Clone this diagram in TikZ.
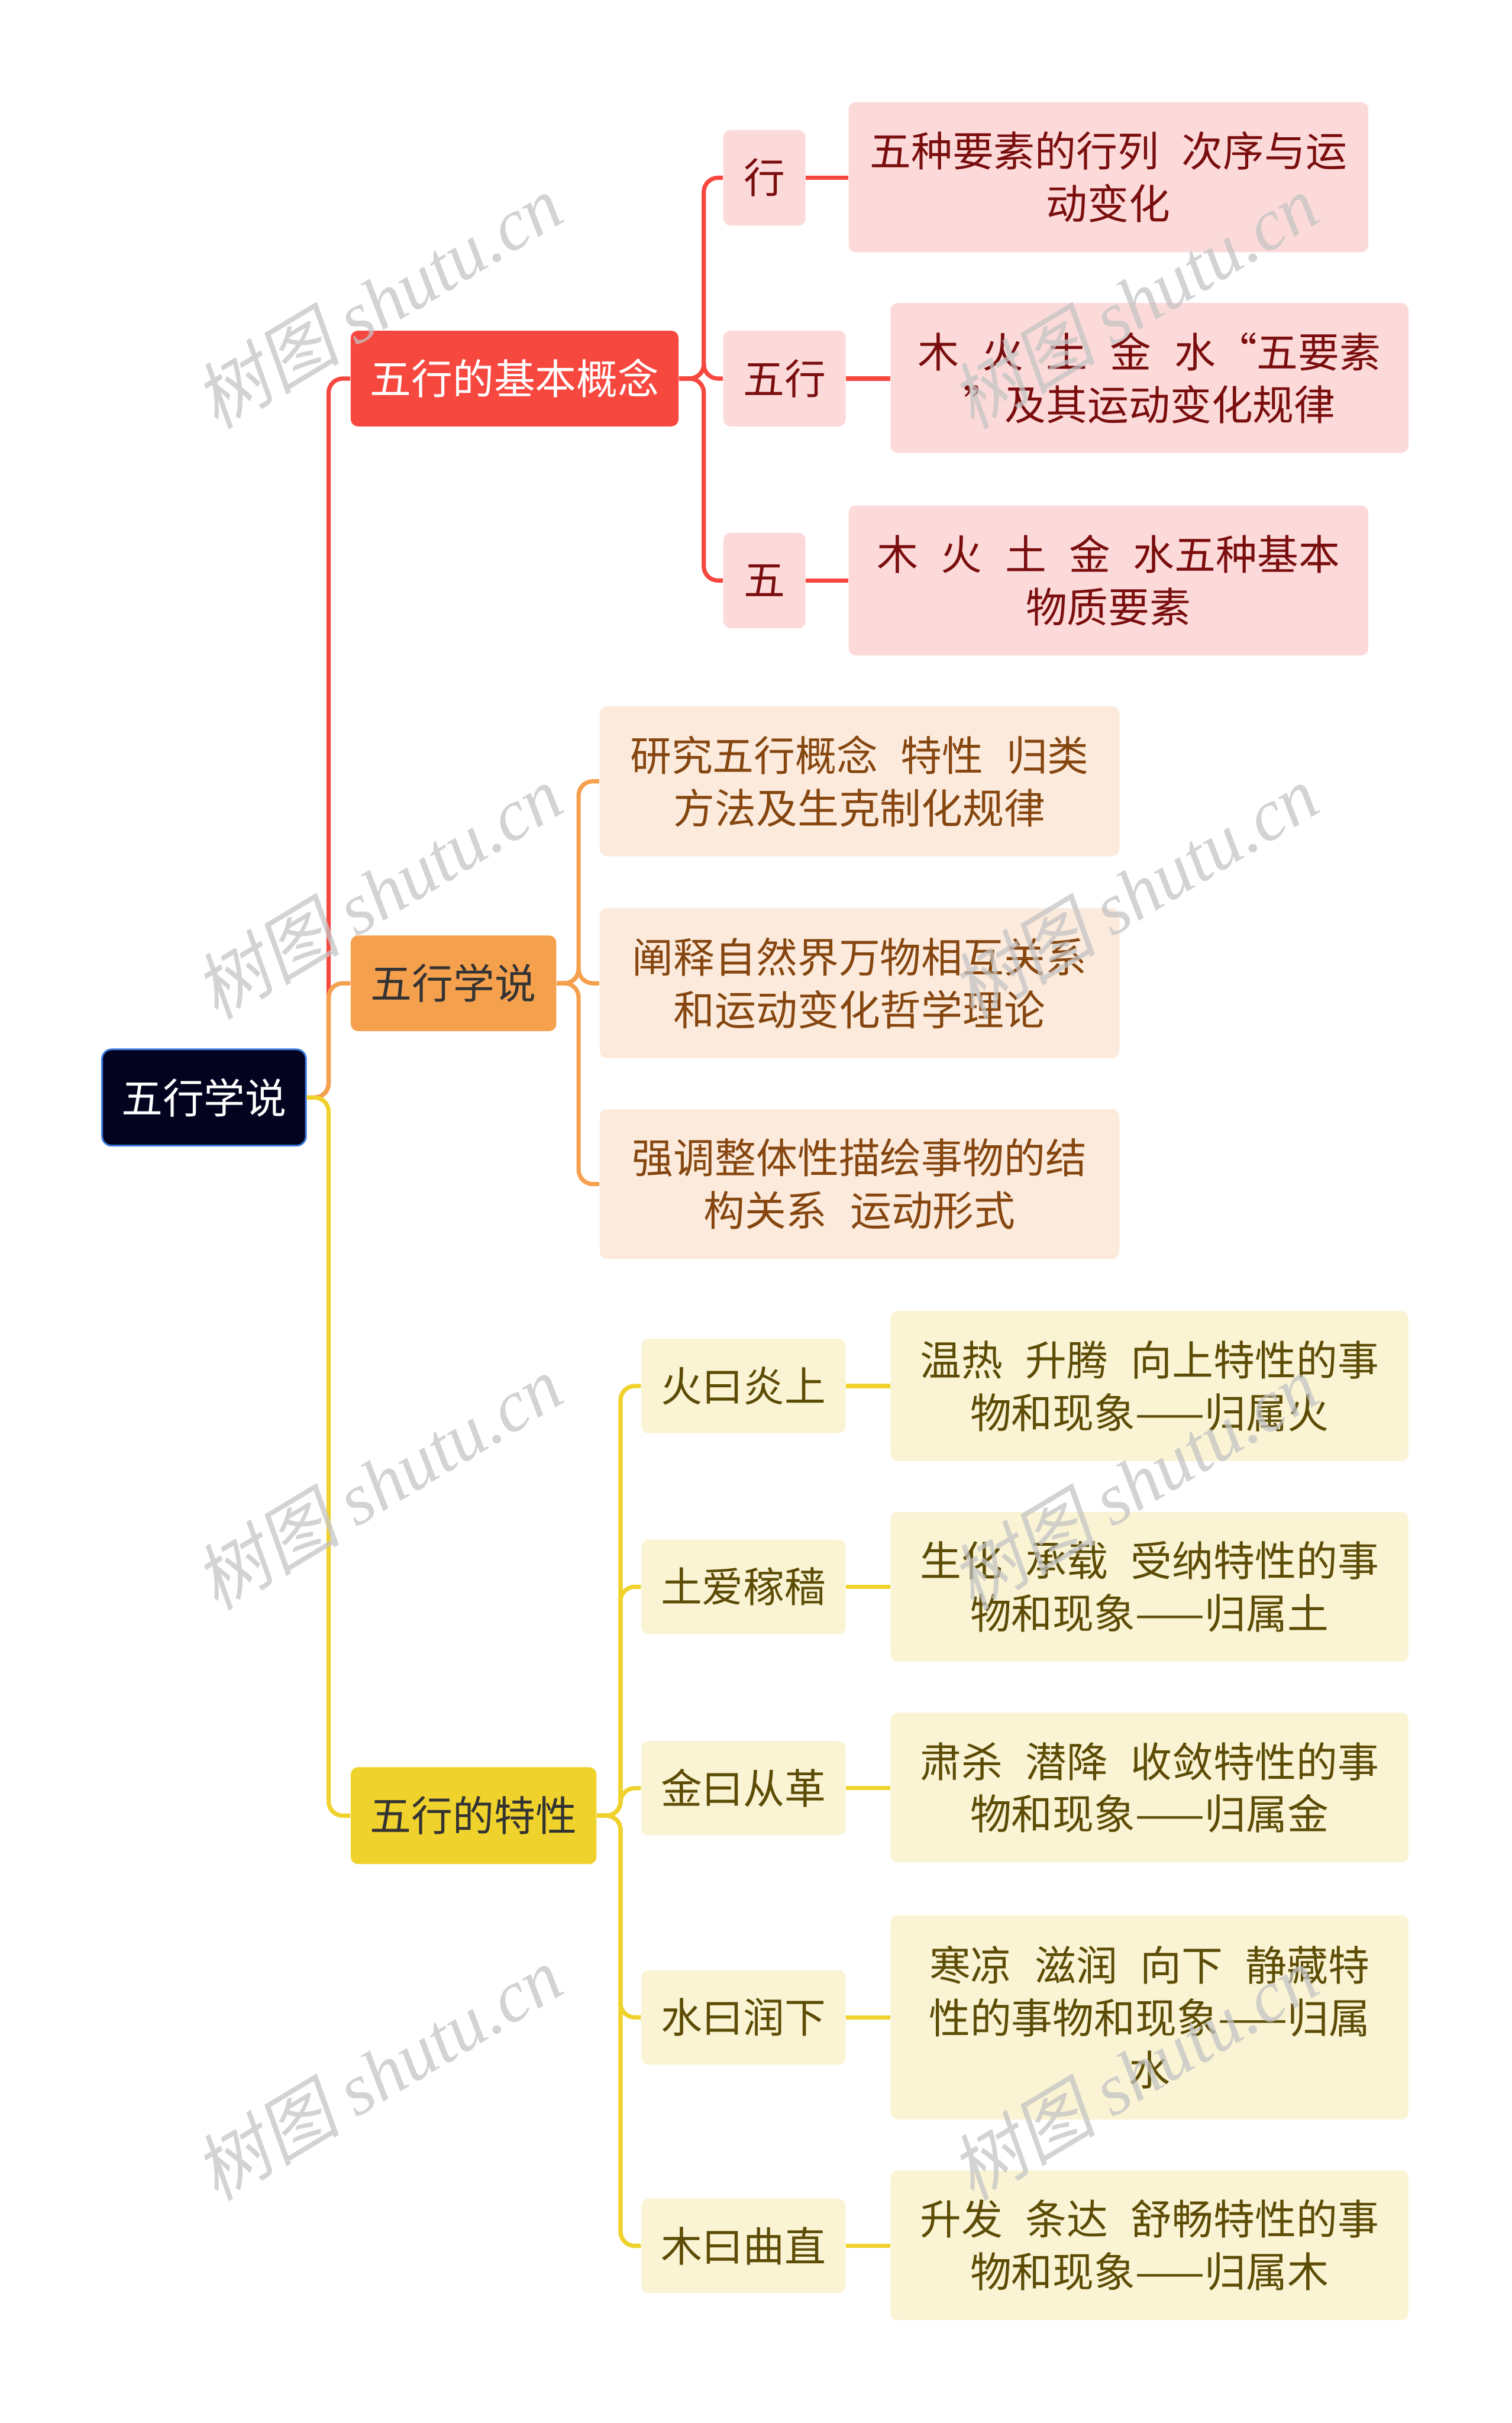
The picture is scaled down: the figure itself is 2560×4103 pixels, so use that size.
\documentclass[tikz,border=0pt]{standalone}
\usepackage{fontspec}
\setmainfont{Noto Sans CJK SC}
\newfontfamily\wmcjk[FakeSlant=0.2]{Noto Sans CJK SC}
\newfontfamily\wmlatin{Liberation Serif}
\newcommand{\wgap}{\hspace{0.55em}}
\definecolor{wxcolor0000}{RGB}{3,3,32}
\definecolor{wxcolor0001}{RGB}{59,120,222}
\definecolor{wxcolor0002}{RGB}{247,72,64}
\definecolor{wxcolor0003}{RGB}{253,218,218}
\definecolor{wxcolor0004}{RGB}{122,14,14}
\definecolor{wxcolor0005}{RGB}{245,160,77}
\definecolor{wxcolor0006}{RGB}{252,235,220}
\definecolor{wxcolor0007}{RGB}{134,70,16}
\definecolor{wxcolor0008}{RGB}{240,210,44}
\definecolor{wxcolor0009}{RGB}{251,244,212}
\definecolor{wxcolor0010}{RGB}{92,76,6}
\definecolor{wxcolor0011}{RGB}{51,51,51}
\definecolor{wxcolor0012}{RGB}{196,196,196}

\begin{document}
\begin{tikzpicture}[x=0.25pt,y=-0.25pt
                ,wbase/.style={rounded corners=3pt,inner sep=0pt,align=center,font=\fontsize{17.5}{22.25}\selectfont}
                ,wroot/.style={wbase,fill=wxcolor0000,draw=wxcolor0001,line width=0.75pt,rounded corners=4pt,text=white,minimum width=86.25pt,minimum height=40.75pt}
                ,wred/.style={wbase,fill=wxcolor0002,text=white,minimum height=40.5pt}
                ,worange/.style={wbase,fill=wxcolor0005,text=wxcolor0011,minimum height=40.5pt}
                ,wyellow/.style={wbase,fill=wxcolor0008,text=wxcolor0011,minimum height=41pt}
                ,wredsub/.style={wbase,fill=wxcolor0003,text=wxcolor0004,minimum height=40.5pt}
                ,wredleaf/.style={wbase,fill=wxcolor0003,text=wxcolor0004,minimum width=220pt,minimum height=63.5pt}
                ,worangeleaf/.style={wbase,fill=wxcolor0006,text=wxcolor0007,minimum width=220pt,minimum height=63.5pt}
                ,wyellowsub/.style={wbase,fill=wxcolor0009,text=wxcolor0010,minimum width=86.5pt,minimum height=40pt}
                ,wyellowleaf/.style={wbase,fill=wxcolor0009,text=wxcolor0010,minimum width=219.25pt,minimum height=63.5pt}
                ,wline/.style={line width=1.8pt,rounded corners=6pt}
                ,wmark/.style={rotate=31,text=wxcolor0012,opacity=0.75,inner sep=0pt}
            ]
            \useasboundingbox (0,0) rectangle (2560,4103);
            \node[wroot] (root) at (345.5,1858.5) {五行学说};
            \node[wred,minimum width=138.75pt] (basic) at (871.5,641) {五行的基本概念};
            \node[worange,minimum width=87pt] (theory) at (768,1665) {五行学说};
            \node[wyellow,minimum width=104pt] (nature) at (802,3074.5) {五行的特性};
            \node[wredsub,minimum width=34.75pt] (xing) at (1294.5,301) {行};
            \node[wredsub,minimum width=51.75pt] (wuxing) at (1328.5,641) {五行};
            \node[wredsub,minimum width=34.75pt] (wu) at (1294.5,983) {五};
            \node[wredleaf] (xingleaf) at (1877,300) {五种要素的行列\wgap 次序与运\\动变化};
            \node[wredleaf,minimum width=219.25pt] (wuxingleaf) at (1946.5,640) {木\wgap 火\wgap 土\wgap 金\wgap 水“五要素\\”及其运动变化规律};
            \node[wredleaf] (wuleaf) at (1877,983) {木\wgap 火\wgap 土\wgap 金\wgap 水五种基本\\物质要素};
            \node[worangeleaf] (study) at (1455.5,1323) {研究五行概念\wgap 特性\wgap 归类\\方法及生克制化规律};
            \node[worangeleaf] (explain) at (1455.5,1665) {阐释自然界万物相互关系\\和运动变化哲学理论};
            \node[worangeleaf] (stress) at (1455.5,2005) {强调整体性描绘事物的结\\构关系\wgap 运动形式};
            \node[wyellowsub] (fire) at (1259,2347) {火曰炎上};
            \node[wyellowsub] (earth) at (1259,2687) {土爱稼穑};
            \node[wyellowsub] (metal) at (1259,3028) {金曰从革};
            \node[wyellowsub] (water) at (1259,3416) {水曰润下};
            \node[wyellowsub] (wood) at (1259,3803) {木曰曲直};
            \node[wyellowleaf] (fireleaf) at (1946.5,2347) {温热\wgap 升腾\wgap 向上特性的事\\物和现象——归属火};
            \node[wyellowleaf] (earthleaf) at (1946.5,2687) {生化\wgap 承载\wgap 受纳特性的事\\物和现象——归属土};
            \node[wyellowleaf] (metalleaf) at (1946.5,3027) {肃杀\wgap 潜降\wgap 收敛特性的事\\物和现象——归属金};
            \node[wyellowleaf,minimum height=86.5pt] (waterleaf) at (1946.5,3416) {寒凉\wgap 滋润\wgap 向下\wgap 静藏特\\性的事物和现象——归属\\水};
            \node[wyellowleaf] (woodleaf) at (1946.5,3802) {升发\wgap 条达\wgap 舒畅特性的事\\物和现象——归属木};
            \draw[wline,wxcolor0002] (root.east) -- ++(37,0) |- (basic.west);
            \draw[wline,wxcolor0005] (root.east) -- ++(37,0) |- (theory.west);
            \draw[wline,wxcolor0008] (root.east) -- ++(37,0) |- (nature.west);
            \draw[wline,wxcolor0002] (basic.east) -- ++(42,0) |- (xing.west);
            \draw[wline,wxcolor0002] (basic.east) -- ++(42,0) |- (wuxing.west);
            \draw[wline,wxcolor0002] (basic.east) -- ++(42,0) |- (wu.west);
            \draw[wline,wxcolor0002] (xing.east) -- (xingleaf.west |- xing.east);
            \draw[wline,wxcolor0002] (wuxing.east) -- (wuxingleaf.west |- wuxing.east);
            \draw[wline,wxcolor0002] (wu.east) -- (wuleaf.west |- wu.east);
            \draw[wline,wxcolor0005] (theory.east) -- ++(37,0) |- (study.west);
            \draw[wline,wxcolor0005] (theory.east) -- ++(37,0) |- (explain.west);
            \draw[wline,wxcolor0005] (theory.east) -- ++(37,0) |- (stress.west);
            \draw[wline,wxcolor0008] (nature.east) -- ++(40,0) |- (fire.west);
            \draw[wline,wxcolor0008] (nature.east) -- ++(40,0) |- (earth.west);
            \draw[wline,wxcolor0008] (nature.east) -- ++(40,0) |- (metal.west);
            \draw[wline,wxcolor0008] (nature.east) -- ++(40,0) |- (water.west);
            \draw[wline,wxcolor0008] (nature.east) -- ++(40,0) |- (wood.west);
            \draw[wline,wxcolor0008] (fire.east) -- (fireleaf.west |- fire.east);
            \draw[wline,wxcolor0008] (earth.east) -- (earthleaf.west |- earth.east);
            \draw[wline,wxcolor0008] (metal.east) -- (metalleaf.west |- metal.east);
            \draw[wline,wxcolor0008] (water.east) -- (waterleaf.west |- water.east);
            \draw[wline,wxcolor0008] (wood.east) -- (woodleaf.west |- wood.east);
            \foreach \wy in {510,1510,2510,3510}{
                \node[wmark] at (640,\wy) {\fontsize{31}{31}\selectfont\wmcjk 树图 \wmlatin\itshape shutu.cn};
                \node[wmark] at (1920,\wy) {\fontsize{31}{31}\selectfont\wmcjk 树图 \wmlatin\itshape shutu.cn};
            }
        \end{tikzpicture}
\end{document}
